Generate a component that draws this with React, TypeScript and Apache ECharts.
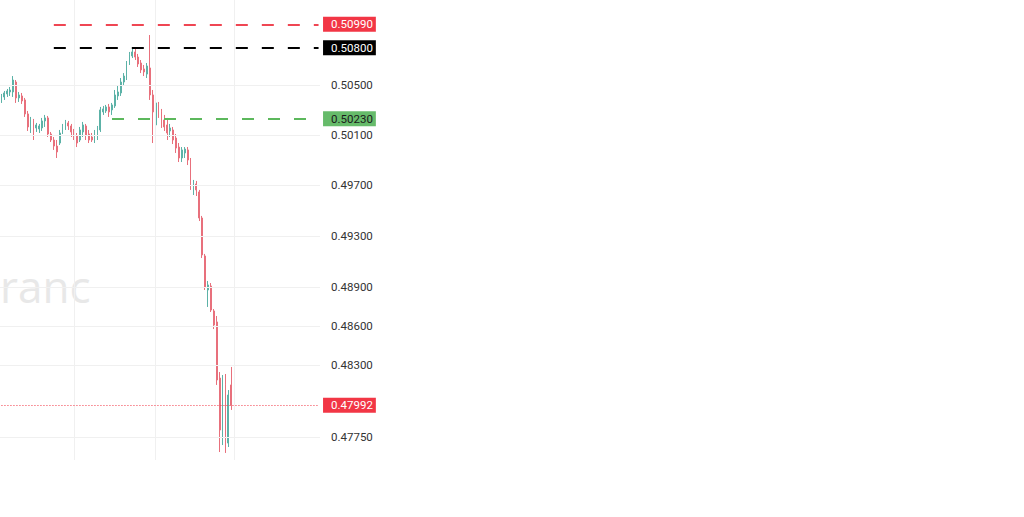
import React, { useEffect, useRef } from "react";
import * as echarts from "echarts";

// ---- data (OHLC) ----
const opens = [
  0.5038, 0.50404, 0.50428, 0.50444, 0.50444, 0.50524, 0.50396, 0.50412, 0.5038, 0.50268,
  0.50148, 0.50212, 0.50156, 0.50148, 0.50156, 0.50212, 0.50236, 0.50108, 0.5006, 0.50012,
  0.50036, 0.50124, 0.50156, 0.50196, 0.50172, 0.50124, 0.50092, 0.5006, 0.50124, 0.50172,
  0.50108, 0.50084, 0.50052, 0.50092, 0.5014, 0.50284, 0.50292, 0.50324, 0.503, 0.50332,
  0.50412, 0.50436, 0.50524, 0.50556, 0.50677, 0.50734, 0.50766, 0.50725, 0.50677, 0.50629,
  0.50588, 0.50637, 0.5042, 0.5018, 0.5034, 0.50284, 0.5022, 0.5018, 0.50132, 0.5014,
  0.50076, 0.50004, 0.49917, 0.49957, 0.49981, 0.49901, 0.49664, 0.49711, 0.49648, 0.49443,
  0.49145, 0.4888, 0.48911, 0.48717, 0.48632, 0.482, 0.47765, 0.48147, 0.47704, 0.48147,
];
const closes = [
  0.50412, 0.50436, 0.50452, 0.5046, 0.5054, 0.50396, 0.5042, 0.50372, 0.50268, 0.50164,
  0.5022, 0.5014, 0.5018, 0.50172, 0.50212, 0.50236, 0.50108, 0.5006, 0.50012, 0.49965,
  0.50116, 0.50164, 0.50204, 0.50172, 0.50124, 0.50084, 0.50036, 0.5014, 0.5018, 0.501,
  0.5006, 0.5006, 0.50108, 0.50156, 0.503, 0.50308, 0.50324, 0.50284, 0.5034, 0.5042,
  0.50444, 0.50524, 0.50572, 0.50677, 0.50742, 0.50766, 0.50725, 0.50669, 0.50621, 0.50605,
  0.50653, 0.5042, 0.50284, 0.50356, 0.50276, 0.50204, 0.50164, 0.50116, 0.50156, 0.5006,
  0.49996, 0.49917, 0.49981, 0.49988, 0.49901, 0.49719, 0.49711, 0.49664, 0.49443, 0.49153,
  0.48903, 0.48919, 0.48724, 0.48608, 0.48185, 0.47803, 0.48162, 0.47879, 0.4807, 0.47992,
];
const lows = [
  0.50356, 0.5038, 0.50404, 0.50412, 0.50404, 0.50356, 0.50364, 0.50348, 0.50244, 0.50132,
  0.50116, 0.5006, 0.50124, 0.50116, 0.50132, 0.50164, 0.50084, 0.50044, 0.49981, 0.49917,
  0.5002, 0.50108, 0.5014, 0.5014, 0.50084, 0.5006, 0.50004, 0.50044, 0.50084, 0.5006,
  0.50036, 0.50044, 0.50036, 0.5006, 0.50124, 0.5026, 0.50276, 0.50244, 0.5026, 0.50316,
  0.5038, 0.50412, 0.505, 0.5054, 0.50661, 0.50717, 0.50701, 0.50645, 0.50596, 0.50572,
  0.50556, 0.5038, 0.50036, 0.5014, 0.50236, 0.50156, 0.50132, 0.5006, 0.50084, 0.50028,
  0.49957, 0.49885, 0.49885, 0.49917, 0.49861, 0.49664, 0.49624, 0.49616, 0.49419, 0.49129,
  0.4888, 0.48748, 0.48709, 0.48577, 0.48147, 0.47636, 0.47689, 0.47629, 0.47674, 0.47956,
];
const highs = [
  0.50428, 0.50452, 0.50468, 0.50484, 0.50572, 0.5054, 0.50444, 0.50436, 0.50396, 0.50292,
  0.50244, 0.50228, 0.50196, 0.50188, 0.50236, 0.5026, 0.50252, 0.50124, 0.50084, 0.5006,
  0.5014, 0.50188, 0.5022, 0.50212, 0.50188, 0.50148, 0.50116, 0.50164, 0.50204, 0.50188,
  0.5014, 0.50116, 0.5014, 0.50172, 0.50324, 0.50332, 0.5034, 0.50348, 0.50356, 0.5046,
  0.50492, 0.50556, 0.50596, 0.50693, 0.50766, 0.50806, 0.5079, 0.5075, 0.50701, 0.50661,
  0.50677, 0.50903, 0.5046, 0.5038, 0.50364, 0.50308, 0.5026, 0.50236, 0.50188, 0.50164,
  0.50108, 0.50036, 0.50004, 0.50004, 0.50004, 0.49917, 0.49743, 0.49735, 0.49664, 0.49459,
  0.49161, 0.4895, 0.48934, 0.48732, 0.48678, 0.48246, 0.48223, 0.48231, 0.48108, 0.48285,
];

const slotCount = 110; // candle slots on the time axis (right part left empty)
const verticalGridSlots = [25, 53, 80];
const priceTicks = [0.505, 0.501, 0.497, 0.493, 0.489, 0.486, 0.483, 0.4775];
const levelValues = [0.5099, 0.508, 0.5023];
const levelStartSlots = [18, 18, 38];
const lastPrice = 0.47992;
const priceMin = 0.475756;
const priceMax = 0.511874;
const watermark = "ranc";

// ---- styles ----
const UP = "#5cb2a7";
const DOWN = "#e8707c";
const GRID = "#f0f0f0";
const LAST = "#f23645";
const levelLineColors = ["#ef4653", "#000000", "#5cb85c"];
const levelBoxColors = ["#f23645", "#000000", "#66bb6a"];
const levelTextColors = ["#ffffff", "#ffffff", "#1a1a1a"];

const labelBase = {
  show: true,
  position: "end",
  fontFamily: "Roboto",
  fontSize: 11.5,
  lineHeight: 13,
  padding: [1, 3, 1, 8],
};

export default function App() {
  const ref = useRef<HTMLDivElement>(null);

  useEffect(() => {
    const chart = echarts.init(ref.current!, null, { renderer: "svg" });
    const categories = Array.from({ length: slotCount }, (_, i) => String(i));
    const candles = opens.map((o, i) => [o, closes[i], lows[i], highs[i]]);
    const lastSlot = slotCount - 1;

    const levelLines = levelValues.map((v, i) => [
      {
        coord: [levelStartSlots[i], v],
        lineStyle: { color: levelLineColors[i], width: 2, type: [12, 14] },
        label: {
          ...labelBase,
          distance: 4.5,
          formatter: v.toFixed(5),
          color: levelTextColors[i],
          backgroundColor: levelBoxColors[i],
        },
      },
      { coord: [lastSlot, v] },
    ]);

    const lastPriceLine = [
      {
        coord: [0, lastPrice],
        lineStyle: { color: LAST, width: 1, type: [1, 2] },
        label: {
          ...labelBase,
          distance: 4.5,
          formatter: lastPrice.toFixed(5),
          color: "#ffffff",
          backgroundColor: LAST,
        },
      },
      { coord: [lastSlot, lastPrice] },
    ];

    const gridLines: any[] = [
      ...priceTicks.map((v) => ({
        yAxis: v,
        label: { ...labelBase, distance: 3, color: "#333333", formatter: v.toFixed(5) },
      })),
      ...verticalGridSlots.map((s) => ({ xAxis: s, label: { show: false } })),
    ];

    const option: any = {
      animation: false,
      backgroundColor: "#ffffff",
      grid: { left: 0, right: 704, top: 0, bottom: 57 },
      xAxis: {
        type: "category",
        data: categories,
        boundaryGap: true,
        axisLine: { show: false },
        axisTick: { show: false },
        axisLabel: { show: false },
        splitLine: { show: false },
      },
      yAxis: {
        type: "log",
        min: priceMin,
        max: priceMax,
        axisLine: { show: false },
        axisTick: { show: false },
        axisLabel: { show: false },
        splitLine: { show: false },
      },
      graphic: [
        {
          type: "text",
          left: 0,
          top: 264,
          z: 0,
          silent: true,
          style: {
            text: watermark,
            fontSize: 44,
            fontFamily: "Open Sans",
            fill: "#e8e8e8",
          },
        },
      ],
      series: [
        {
          type: "line",
          data: [],
          z: 1,
          silent: true,
          markLine: {
            silent: true,
            animation: false,
            precision: 5,
            symbol: ["none", "none"],
            lineStyle: { color: GRID, type: "solid", width: 1 },
            data: gridLines,
          },
        },
        {
          type: "candlestick",
          data: candles,
          z: 2,
          barWidth: 1.4,
          itemStyle: {
            color: UP,
            color0: DOWN,
            borderColor: UP,
            borderColor0: DOWN,
            borderWidth: 1,
          },
        },
        {
          type: "line",
          data: [],
          z: 3,
          silent: true,
          markLine: {
            silent: true,
            animation: false,
            precision: 5,
            symbol: ["none", "none"],
            data: [...levelLines, lastPriceLine],
          },
        },
      ],
    };

    chart.setOption(option);
    return () => chart.dispose();
  }, []);

  return (
    <div
      ref={ref}
      style={{ position: "fixed", left: 0, top: 0, width: 1024, height: 517, background: "#fff" }}
    />
  );
}
